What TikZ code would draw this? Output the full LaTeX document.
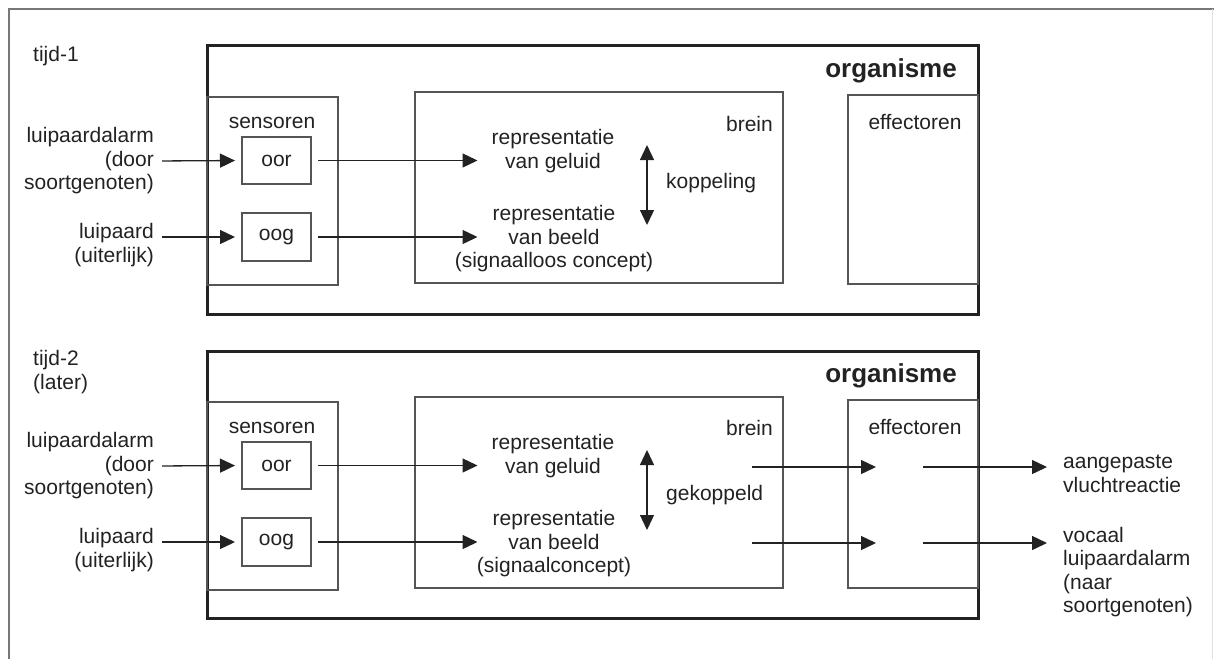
\documentclass[tikz,border=0pt]{standalone}
\usepackage{fontspec}
\setmainfont{Liberation Sans}
\usetikzlibrary{arrows.meta}
\definecolor{ink}{HTML}{222222}
\definecolor{boxline}{HTML}{555555}
\definecolor{frameline}{HTML}{777777}
\begin{document}
\begin{tikzpicture}[x=1pt,y=-1pt,
  txt/.style={font=\fontsize{21pt}{23.5pt}\selectfont, text=ink, inner sep=0pt},
  orgbox/.style={draw=ink, line width=3pt, inner sep=0pt, outer sep=0pt, anchor=north west},
  thinbox/.style={draw=boxline, line width=1.4pt, inner sep=0pt, outer sep=0pt, anchor=north west},
  arr/.style={draw=ink, line width=1.3pt, -{Triangle[length=15pt,width=14pt]}},
  darr/.style={draw=ink, line width=1.3pt, {Triangle[length=15pt,width=14pt]}-{Triangle[length=15pt,width=14pt]}}
]
\useasboundingbox (0,0) rectangle (1214,659);
% frame
\draw[frameline, line width=2pt] (9,659) -- (9,9) -- (1214,9);
\draw[black!12, line width=1pt] (1212,9) -- (1212,659);

% ===== tijd-1 =====
\node[orgbox, minimum width=771pt, minimum height=269pt] (org1) at (207,45) {};
\node[thinbox, minimum width=131pt, minimum height=188pt] (sens1) at (207,97) {};
\node[thinbox, minimum width=69pt, minimum height=47pt] (oor1) at (242,137) {};
\node[thinbox, minimum width=69pt, minimum height=48pt] (oog1) at (242,213) {};
\node[thinbox, minimum width=368pt, minimum height=191pt] (brein1) at (415,92) {};
\node[thinbox, minimum width=130pt, minimum height=189pt] (eff1) at (848,95) {};

\node[txt, anchor=west] (t1) at (33,56) {tijd-1};
\node[txt, anchor=east, font=\fontsize{26pt}{28pt}\selectfont\bfseries] (orgl1) at (957,71) {organisme};
\node[txt] (sensl1) at (272,123) {sensoren};
\node[txt] (oorl1) at (oor1.center) {oor};
\node[txt] (oogl1) at (oog1.center) {oog};
\node[txt, anchor=east] (breinl1) at (773,124) {brein};
\node[txt] (effl1) at (915,122) {effectoren};

\node[txt, anchor=east, align=right] (in1a) at (154,161) {luipaardalarm\\(door\\soortgenoten)};
\node[txt, anchor=east, align=right] (in1b) at (154,245) {luipaard\\(uiterlijk)};
\node[txt, align=center] (geluid1) at (553,151) {representatie\\van geluid};
\node[txt, align=center] (beeld1) at (554,239) {representatie\\van beeld\\(signaalloos concept)};
\node[txt, anchor=west] (kop1) at (666,183) {koppeling};
\coordinate (d1a) at (647,145);
\coordinate (d1b) at (647,225);

\draw[arr, shorten <=8pt, shorten >=7pt] (in1a.east) -- (oor1.west);
\draw[arr, shorten <=8pt, shorten >=7pt] (in1b.east |- oog1.west) -- (oog1.west);
\draw[arr, shorten <=7pt, shorten >=14pt] (oor1.east) -- (geluid1.west |- oor1.east);
\draw[arr, shorten <=7pt, shorten >=14pt] (oog1.east) -- (geluid1.west |- oog1.east);
\draw[darr] (d1a) -- (d1b);

% ===== tijd-2 =====
\node[orgbox, minimum width=771pt, minimum height=267pt] (org2) at (207,351) {};
\node[thinbox, minimum width=131pt, minimum height=188pt] (sens2) at (207,402) {};
\node[thinbox, minimum width=69pt, minimum height=47pt] (oor2) at (242,442) {};
\node[thinbox, minimum width=69pt, minimum height=48pt] (oog2) at (242,518) {};
\node[thinbox, minimum width=368pt, minimum height=191pt] (brein2) at (415,397) {};
\node[thinbox, minimum width=130pt, minimum height=188pt] (eff2) at (848,400) {};

\node[txt, anchor=west, align=left] (t2) at (33,372) {tijd-2\\(later)};
\node[txt, anchor=east, font=\fontsize{26pt}{28pt}\selectfont\bfseries] (orgl2) at (957,376) {organisme};
\node[txt] (sensl2) at (272,428) {sensoren};
\node[txt] (oorl2) at (oor2.center) {oor};
\node[txt] (oogl2) at (oog2.center) {oog};
\node[txt, anchor=east] (breinl2) at (773,428) {brein};
\node[txt] (effl2) at (915,427) {effectoren};

\node[txt, anchor=east, align=right] (in2a) at (154,466) {luipaardalarm\\(door\\soortgenoten)};
\node[txt, anchor=east, align=right] (in2b) at (154,550) {luipaard\\(uiterlijk)};
\node[txt, align=center] (geluid2) at (553,456) {representatie\\van geluid};
\node[txt, align=center] (beeld2) at (554,544) {representatie\\van beeld\\(signaalconcept)};
\node[txt, anchor=west] (kop2) at (666,495) {gekoppeld};
\coordinate (d2a) at (647,450);
\coordinate (d2b) at (647,530);

\node[txt, anchor=west, align=left] (out1) at (1063,474) {aangepaste\\vluchtreactie};
\node[txt, anchor=north west, align=left] (out2) at (1063,527) {vocaal\\luipaardalarm\\(naar\\soortgenoten)};

\coordinate (b2a) at (752,467);
\coordinate (b2b) at (752,543);
\coordinate (e2a) at (876,467);
\coordinate (e2b) at (876,543);
\coordinate (f2a) at (923,467);
\coordinate (f2b) at (923,543);

\draw[arr, shorten <=8pt, shorten >=7pt] (in2a.east) -- (oor2.west);
\draw[arr, shorten <=8pt, shorten >=7pt] (in2b.east |- oog2.west) -- (oog2.west);
\draw[arr, shorten <=7pt, shorten >=14pt] (oor2.east) -- (geluid2.west |- oor2.east);
\draw[arr, shorten <=7pt, shorten >=14pt] (oog2.east) -- (geluid2.west |- oog2.east);
\draw[darr] (d2a) -- (d2b);
\draw[arr] (b2a) -- (e2a);
\draw[arr] (b2b) -- (e2b);
\draw[arr, shorten >=16pt] (f2a) -- (out1.west |- f2a);
\draw[arr, shorten >=16pt] (f2b) -- (out2.west |- f2b);
\end{tikzpicture}
\end{document}
